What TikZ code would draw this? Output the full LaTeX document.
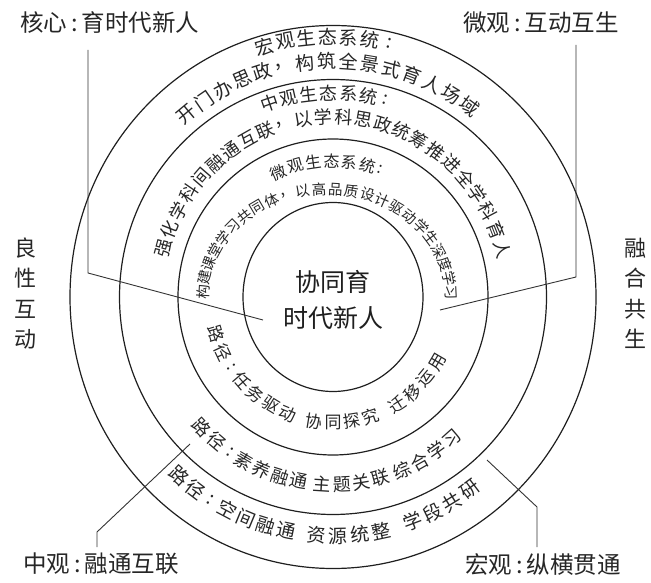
\documentclass[tikz,border=0pt]{standalone}
\usepackage{fontspec}
\setmainfont{Noto Sans CJK SC}
\tikzset{
  ring/.style={line width=1.2pt, draw=black!88},
  conn/.style={line width=0.9pt, draw=black!80},
  arcch/.style={inner sep=0pt, text=black!85},
  corner/.style={inner sep=0pt, anchor=west, font=\fontsize{23.5}{23.5}\selectfont, text=black!85},
  vert/.style={inner sep=0pt, font=\fontsize{22}{22}\selectfont, text=black!85},
}
% #1 prefix, #2 font size, #3 cx, #4 cy, #5 rx, #6 ry, #7 rotation offset, #8 list angle/char
\newcommand\arcline[8]{%
  \foreach \ang/\ch [count=\idx] in {#8}{%
    \pgfmathsetmacro\nrm{atan2((#5)*sin(\ang),(#6)*cos(\ang))+(#7)}%
    \node[arcch, font={\fontsize{#2}{#2}\selectfont}, rotate=\nrm] (#1\idx)
      at ({#3+(#5)*cos(\ang)},{#4+(#6)*sin(\ang)}) {\ch};
  }%
}
\begin{document}
\begin{tikzpicture}[x=1pt,y=1pt]
\useasboundingbox (0,0) rectangle (651,582);
\coordinate (C) at (333,285);
\draw[ring] (C) ellipse [x radius=90, y radius=94.5];
\draw[ring] (C) ellipse [x radius=155, y radius=158];
\draw[ring] (C) ellipse [x radius=213.5, y radius=217.5];
\draw[ring] (C) ellipse [x radius=263, y radius=271.5];

% connectors
\coordinate (p1a) at (88,532); \coordinate (p1b) at (88,309); \coordinate (p1c) at (263,262);
\coordinate (p2a) at (576,537); \coordinate (p2b) at (576,305); \coordinate (p2c) at (440,272);
\coordinate (p3a) at (97,35); \coordinate (p3b) at (97,50); \coordinate (p3c) at (190,138);
\coordinate (p4a) at (537,35); \coordinate (p4b) at (537,75); \coordinate (p4c) at (487,122);
\draw[conn] (p1a) -- (p1b) -- (p1c);
\draw[conn] (p2a) -- (p2b) -- (p2c);
\draw[conn] (p3a) -- (p3b) -- (p3c);
\draw[conn] (p4a) -- (p4b) -- (p4c);

% corner labels
\node[corner] (lcore) at (20,559) {核心\,:\,育时代新人};
\node[corner] (lmicro) at (463,559) {微观\,:\,互动互生};
\node[corner] (lmid) at (23,18) {中观\,:\,融通互联};
\node[corner] (lmacro) at (465,18) {宏观\,:\,纵横贯通};

% vertical labels
\node[vert] (v1) at (25,334) {良};
\node[vert] (v2) at (25,304) {性};
\node[vert] (v3) at (25,273) {互};
\node[vert] (v4) at (25,243) {动};
\node[vert] (w1) at (635,334) {融};
\node[vert] (w2) at (635,304) {合};
\node[vert] (w3) at (635,273) {共};
\node[vert] (w4) at (635,243) {生};

% centre
\node[inner sep=0pt, align=center, font=\fontsize{25}{36}\selectfont, text=black!88] (core) at (333,282) {协同育\\时代新人};

% top arcs
\arcline{a}{19}{333}{285}{255}{260}{-90}{105.5/宏,100.7/观,96.0/生,91.2/态,86.5/系,81.7/统,77.3/:}
\arcline{b}{19}{333}{285}{231}{236}{-90}{129.2/开,123.8/门,118.4/办,113.0/思,107.7/政,102.3/，,96.9/构,91.5/筑,86.1/全,80.7/景,75.3/式,69.9/育,64.6/人,59.2/场,53.8/域}
\arcline{c}{18}{333}{285}{200}{204}{-90}{108.5/中,102.7/观,96.9/生,91.2/态,85.4/系,79.6/统,74.8/:}
\arcline{d}{18}{333}{285}{176}{180}{-90}{164.4/强,157.9/化,151.4/学,144.9/科,138.5/间,132.0/融,125.5/通,119.0/互,112.5/联,106.1/，,99.6/以,93.1/学,86.6/科,80.1/思,73.6/政,67.2/统,60.7/筹,54.2/推,47.7/进,41.2/全,34.7/学,28.3/科,21.8/育,15.3/人}
\arcline{e}{16}{333}{285}{136}{136}{-90}{113.6/微,105.9/观,98.3/生,90.6/态,83.0/系,75.3/统,70.0/:}
\arcline{f}{14.5}{327}{285}{124}{108}{-90}{177.3/构,169.7/建,162.1/课,154.5/堂,146.9/学,139.3/习,131.7/共,124.1/同,116.5/体,108.9/，,101.3/以,93.7/高,86.1/品,78.5/质,70.9/设,63.3/计,55.7/驱,48.1/动,40.5/学,32.9/生,25.3/深,17.7/度,10.1/学,2.5/习}

% bottom arcs
\arcline{g}{17}{333}{285}{122}{125.7}{90}{197/路,206/径,214/:,221.5/任,230.5/务,239.3/驱,248/动,261/协,270/同,279/探,288/究,301.5/迁,310.5/移,319.5/运,329/用}
\arcline{h}{18}{333}{285}{182}{187.5}{90}{224/路,230.2/径,235.6/:,240.8/素,246.9/养,253/融,259.1/通,266.6/主,272.8/题,279/关,285.2/联,292.4/综,298.6/合,304.8/学,311/习}
\arcline{i}{19}{333}{285}{232}{239}{90}{228.4/路,233.6/径,238.2/:,242.8/空,248/间,253.2/融,258.4/通,266/资,271.3/源,276.6/统,281.9/整,290/学,295.4/段,300.8/共,306.2/研}
\end{tikzpicture}
\end{document}
